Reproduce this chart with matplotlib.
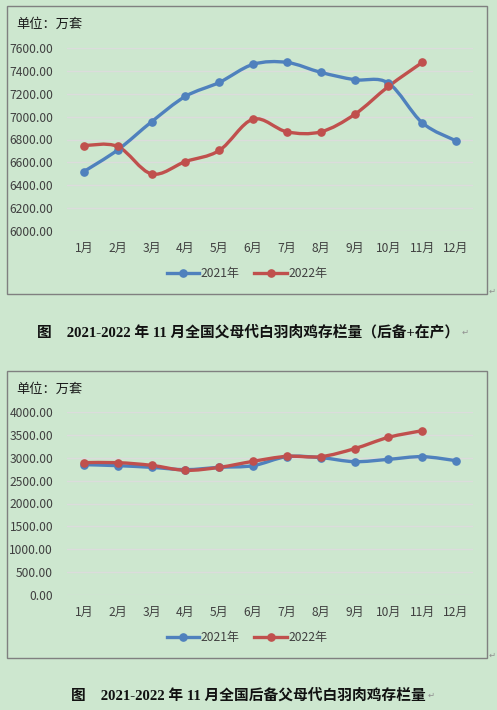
import numpy as np
import matplotlib
matplotlib.use("Agg")
import matplotlib.pyplot as plt
from matplotlib.path import Path
from matplotlib.patches import PathPatch, Rectangle
from matplotlib.lines import Line2D

plt.rcParams['font.family'] = ['Noto Sans CJK SC', 'DejaVu Sans']

months = ["1月", "2月", "3月", "4月", "5月", "6月", "7月", "8月", "9月", "10月", "11月", "12月"]

# 父母代存栏（后备+在产）
total_2021 = [6520, 6709, 6955, 7177, 7299, 7457, 7474, 7387, 7323, 7293, 6946, 6788]
total_2022 = [6747, 6739, 6499, 6607, 6704, 6978, 6867, 6867, 7019, 7264, 7474]

# 后备父母代存栏
reserve_2021 = [2849, 2827, 2790, 2740, 2790, 2827, 3024, 3002, 2914, 2965, 3024, 2936]
reserve_2022 = [2893, 2893, 2834, 2725, 2790, 2922, 3031, 3024, 3199, 3446, 3592]

series_names = ["2021年", "2022年"]
colors = ["#4f81bd", "#c0504d"]

W, H = 497, 710
BG = "#cde7cf"


def fx(px):
    return px / W


def fy(py):
    return 1 - py / H


def smooth_path(xs, ys, t=1 / 6):
    # excel-like smoothed line: cubic bezier through each point
    xs = np.asarray(xs, float)
    ys = np.asarray(ys, float)
    n = len(xs)
    verts = [(xs[0], ys[0])]
    codes = [Path.MOVETO]
    for i in range(n - 1):
        p0 = i - 1 if i > 0 else i
        p3 = i + 2 if i + 2 < n else i + 1
        c1 = (xs[i] + (xs[i + 1] - xs[p0]) * t, ys[i] + (ys[i + 1] - ys[p0]) * t)
        c2 = (xs[i + 1] - (xs[p3] - xs[i]) * t, ys[i + 1] - (ys[p3] - ys[i]) * t)
        verts += [c1, c2, (xs[i + 1], ys[i + 1])]
        codes += [Path.CURVE4] * 3
    return Path(verts, codes)


def draw_chart(box_top, box_bot, ax_top, ax_bot, data, ymin, ymax, step, legend_y):
    fig.patches.append(Rectangle((fx(7), fy(box_bot)), fx(480), (box_bot - box_top) / H,
                                 transform=fig.transFigure, fill=False,
                                 edgecolor="#808080", lw=1.0))
    fig.text(fx(489), fy(box_bot - 3), "↵", fontsize=6, color="#909090",
             family=["DejaVu Sans"], va="center")
    fig.text(fx(16), fy(box_top + 18), "单位：万套", fontsize=9.5, color="#1a1a1a", va="center")

    ax = fig.add_axes([fx(67), fy(ax_bot), fx(473 - 67), (ax_bot - ax_top) / H])
    ax.set_facecolor("none")
    for sp in ax.spines.values():
        sp.set_visible(False)
    ax.set_xlim(-0.5, len(months) - 0.5)
    ax.set_ylim(ymin, ymax)
    yt = np.arange(ymin, ymax + step / 2, step)
    ax.set_yticks(yt)
    ax.set_yticklabels([f"{v:.2f}" for v in yt], fontsize=8.7, color="#404040")
    ax.set_xticks(range(len(months)))
    ax.set_xticklabels(months, fontsize=8.7, color="#404040")
    ax.tick_params(length=0, pad=8)
    ax.tick_params(axis="y", pad=10)
    ax.grid(axis="y", color="#dcdcdc", lw=1.0)
    ax.set_axisbelow(True)

    handles = []
    for vals, c, name in zip(data, colors, series_names):
        xs = np.arange(len(vals))
        ax.add_patch(PathPatch(smooth_path(xs, vals), facecolor="none", edgecolor=c,
                               lw=2.4, capstyle="round", joinstyle="round"))
        ax.plot(xs, vals, linestyle="none", marker="o", ms=5.2, color=c)
        handles.append(Line2D([], [], color=c, lw=2.4, marker="o", ms=5.2))

    fig.legend(handles, series_names, loc="center", bbox_to_anchor=(fx(247), fy(legend_y)),
               ncol=2, frameon=False, fontsize=8.7, handlelength=2.7, handletextpad=0.1,
               columnspacing=1.2, labelcolor="#404040")
    return ax


def caption(y, text):
    t = fig.text(0.5, fy(y), text, ha="center", va="center", fontsize=10.6, fontweight="bold",
                 family=["Liberation Serif", "Noto Sans CJK SC"], color="#111111")
    fig.canvas.draw()
    bb = t.get_window_extent()
    fig.text(bb.x1 / W + fx(2), fy(y), "↵", fontsize=6, color="#909090",
             family=["DejaVu Sans"], va="center", ha="left")


fig = plt.figure(figsize=(W / 100, H / 100), dpi=100, facecolor=BG)

draw_chart(6, 294, 48, 231, [total_2021, total_2022], 6000, 7600, 200, 274)
caption(332, "图    2021-2022 年 11 月全国父母代白羽肉鸡存栏量（后备+在产）")

draw_chart(371, 658, 412, 595, [reserve_2021, reserve_2022], 0, 4000, 500, 638)
caption(695, "图    2021-2022 年 11 月全国后备父母代白羽肉鸡存栏量")

fig.savefig("out.png", dpi=100, facecolor=BG)
